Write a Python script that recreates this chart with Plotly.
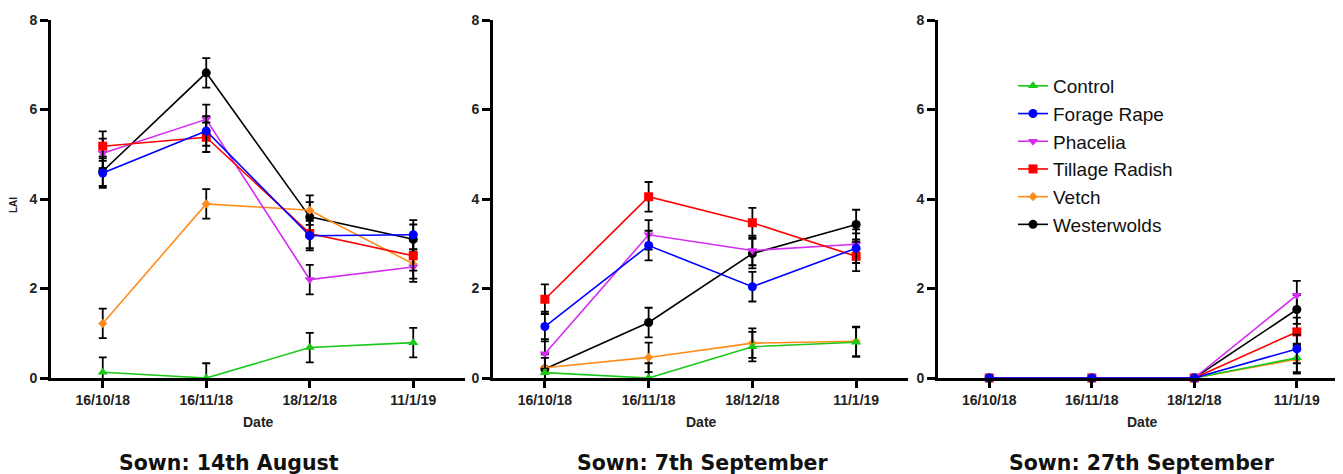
import plotly.graph_objects as go

dates = ["16/10/18", "16/11/18", "18/12/18", "11/1/19"]
series = ["Control", "Forage Rape", "Phacelia", "Tillage Radish", "Vetch", "Westerwolds"]
colors = {"Control": "#19c819", "Forage Rape": "#0000ff", "Phacelia": "#d42cf0",
          "Tillage Radish": "#ff0000", "Vetch": "#ff8c1a", "Westerwolds": "#000000"}
symbols = {"Control": "triangle-up", "Forage Rape": "circle", "Phacelia": "triangle-down",
           "Tillage Radish": "square", "Vetch": "diamond", "Westerwolds": "circle"}
sizes = {"Control": 9, "Forage Rape": 9, "Phacelia": 9, "Tillage Radish": 9, "Vetch": 7, "Westerwolds": 9}

panel_titles = ["Sown: 14th August", "Sown: 7th September", "Sown: 27th September"]

# LAI values per sowing date
aug14 = {
    "Control":        [0.13, 0.00, 0.68, 0.79],
    "Forage Rape":    [4.58, 5.52, 3.18, 3.20],
    "Phacelia":       [5.02, 5.78, 2.20, 2.48],
    "Tillage Radish": [5.18, 5.38, 3.23, 2.73],
    "Vetch":          [1.22, 3.89, 3.75, 2.55],
    "Westerwolds":    [4.62, 6.82, 3.60, 3.10],
}
sep07 = {
    "Control":        [0.12, 0.00, 0.70, 0.80],
    "Forage Rape":    [1.15, 2.96, 2.04, 2.90],
    "Phacelia":       [0.54, 3.20, 2.85, 2.99],
    "Tillage Radish": [1.76, 4.05, 3.47, 2.72],
    "Vetch":          [0.23, 0.46, 0.78, 0.82],
    "Westerwolds":    [0.20, 1.24, 2.78, 3.43],
}
sep27 = {
    "Control":        [0.0, 0.0, 0.0, 0.45],
    "Forage Rape":    [0.0, 0.0, 0.0, 0.65],
    "Phacelia":       [0.0, 0.0, 0.0, 1.85],
    "Tillage Radish": [0.0, 0.0, 0.0, 1.03],
    "Vetch":          [0.0, 0.0, 0.0, 0.42],
    "Westerwolds":    [0.0, 0.0, 0.0, 1.53],
}
# standard errors
se_aug14 = [0.33, 0.33, 0.33, 0.33]
se_sep07 = [0.33, 0.33, 0.33, 0.33]
se_sep27 = [0.0, 0.0, 0.0, 0.32]

panels = [(aug14, se_aug14), (sep07, se_sep07), (sep27, se_sep27)]
draw_orders = [
    ["Westerwolds", "Vetch", "Phacelia", "Tillage Radish", "Forage Rape", "Control"],
    ["Westerwolds", "Vetch", "Phacelia", "Tillage Radish", "Forage Rape", "Control"],
    ["Vetch", "Control", "Westerwolds", "Tillage Radish", "Phacelia", "Forage Rape"],
]

fig = go.Figure()
for pi, (data, se) in enumerate(panels):
    suffix = "" if pi == 0 else str(pi + 1)
    for name in draw_orders[pi]:
        fig.add_trace(go.Scatter(
            x=dates, y=data[name],
            mode="lines+markers",
            name=name,
            legendgroup=name,
            showlegend=(pi == 2),
            legendrank=series.index(name) + 1,
            line=dict(color=colors[name], width=1.6),
            marker=dict(symbol=symbols[name], size=sizes[name], color=colors[name]),
            error_y=dict(type="data", array=se, visible=True, color="black", thickness=1.8, width=4),
            cliponaxis=False,
            xaxis="x" + suffix, yaxis="y" + suffix,
        ))

W, H = 1343, 474
OFF = 8  # page body margin
TOP, BOT = 20 - OFF, 378 - OFF  # plot area in figure pixels
PH = BOT - TOP


def px(p):
    return (p - OFF) / W


def py(p):
    return (BOT - (p - OFF)) / PH


domains = [[px(51), px(465)], [px(493), px(908)], [px(938), px(1345)]]
xranges = [[-0.5, 3.5], [-0.5, 3.5], [-0.5, 3.47]]

tickfont = dict(family="Liberation Sans, Arial", size=14, color="#222", weight="bold")
layout = dict(
    width=W, height=H,
    margin=dict(l=0, r=0, t=TOP, b=H - BOT),
    plot_bgcolor="white", paper_bgcolor="white",
    showlegend=True,
    legend=dict(x=px(1013), y=py(67), xref="paper", yref="paper",
                xanchor="left", yanchor="top",
                font=dict(family="Liberation Sans, Arial", size=19, color="#111"),
                bgcolor="rgba(0,0,0,0)", tracegroupgap=0, itemwidth=30),
)
for i in range(3):
    s = "" if i == 0 else str(i + 1)
    layout["xaxis" + s] = dict(
        domain=domains[i], anchor="y" + s, type="category",
        categoryorder="array", categoryarray=dates,
        range=xranges[i], showline=True, linecolor="black", linewidth=3,
        ticks="outside", ticklen=7, tickwidth=3, tickcolor="black",
        showgrid=False, zeroline=False, tickfont=tickfont,
    )
    layout["yaxis" + s] = dict(
        domain=[0, 1], anchor="x" + s, range=[0, 8],
        tickvals=[0, 2, 4, 6, 8], showline=True, linecolor="black", linewidth=3,
        ticks="outside", ticklen=8, tickwidth=3, tickcolor="black",
        showgrid=False, zeroline=False, tickfont=tickfont,
    )
fig.update_layout(**layout)

ann = []
date_x = [258, 701, 1142]
for i in range(3):
    ann.append(dict(text="Date", x=px(date_x[i]), y=py(422), xref="paper", yref="paper",
                    showarrow=False, xanchor="center", yanchor="middle",
                    font=dict(family="Liberation Sans, Arial", size=14, color="#222", weight="bold")))
title_x = [229, 703, 1142]
for i in range(3):
    ann.append(dict(text=panel_titles[i], x=px(title_x[i]), y=py(463),
                    xref="paper", yref="paper", showarrow=False,
                    xanchor="center", yanchor="middle",
                    font=dict(family="DejaVu Sans", size=20.5, color="#111", weight="bold")))
ann.append(dict(text="LAI", x=px(14), y=py(205), xref="paper", yref="paper",
                showarrow=False, textangle=-90, xanchor="center", yanchor="middle",
                font=dict(family="Liberation Sans, Arial", size=10, color="#222", weight="bold")))
fig.update_layout(annotations=ann)

fig.write_html("out.html")
